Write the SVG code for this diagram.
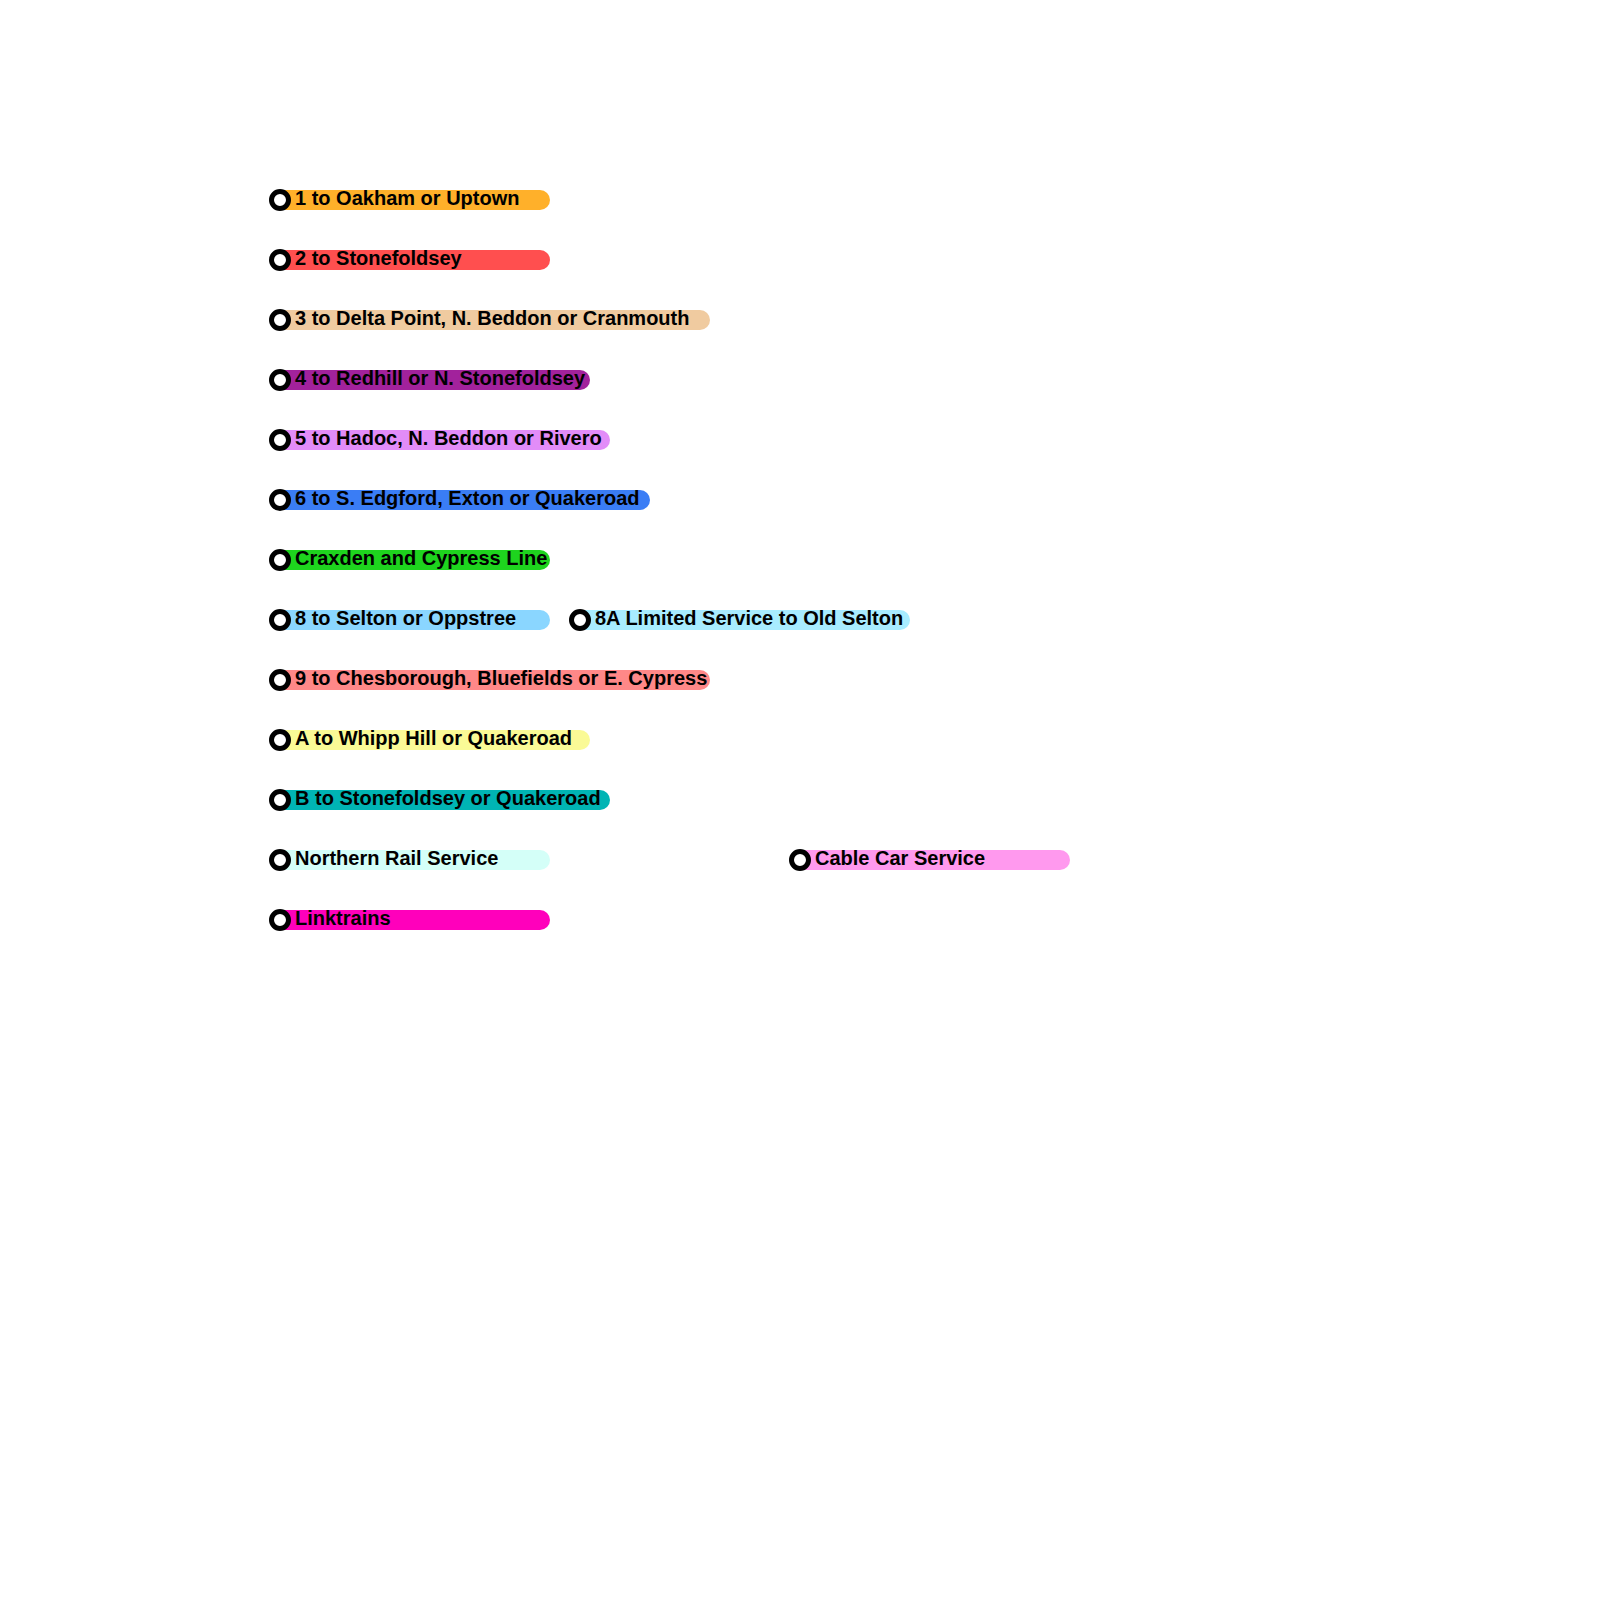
<svg xmlns="http://www.w3.org/2000/svg" width="1600" height="1600" viewBox="0 0 1600 1600">
<style>
.bar{stroke:none}
.st{fill:#fff;stroke:#000;stroke-width:5}
.lb{font-family:"Liberation Sans",Arial,sans-serif;font-weight:bold;font-size:20px;fill:#000}
</style>
<rect width="1600" height="1600" fill="#fff"/>
<g id="connectors"></g>
<g id="l1"><rect class="bar" x="270" y="190" width="280" height="20" rx="10" fill="#FFB02A"/><circle class="st" cx="280" cy="200" r="8.5"/><text class="lb" x="295" y="205">1 to Oakham or Uptown</text></g>
<g id="l2"><rect class="bar" x="270" y="250" width="280" height="20" rx="10" fill="#FF4F4F"/><circle class="st" cx="280" cy="260" r="8.5"/><text class="lb" x="295" y="265">2 to Stonefoldsey</text></g>
<g id="l3"><rect class="bar" x="270" y="310" width="440" height="20" rx="10" fill="#F0CBA0"/><circle class="st" cx="280" cy="320" r="8.5"/><text class="lb" x="295" y="325">3 to Delta Point, N. Beddon or Cranmouth</text></g>
<g id="l4"><rect class="bar" x="270" y="370" width="320" height="20" rx="10" fill="#A2229C"/><circle class="st" cx="280" cy="380" r="8.5"/><text class="lb" x="295" y="385">4 to Redhill or N. Stonefoldsey</text></g>
<g id="l5"><rect class="bar" x="270" y="430" width="340" height="20" rx="10" fill="#E28CF8"/><circle class="st" cx="280" cy="440" r="8.5"/><text class="lb" x="295" y="445">5 to Hadoc, N. Beddon or Rivero</text></g>
<g id="l6"><rect class="bar" x="270" y="490" width="380" height="20" rx="10" fill="#3A7DF5"/><circle class="st" cx="280" cy="500" r="8.5"/><text class="lb" x="295" y="505">6 to S. Edgford, Exton or Quakeroad</text></g>
<g id="l7"><rect class="bar" x="270" y="550" width="280" height="20" rx="10" fill="#1ED41E"/><circle class="st" cx="280" cy="560" r="8.5"/><text class="lb" x="295" y="565">Craxden and Cypress Line</text></g>
<g id="l8"><rect class="bar" x="270" y="610" width="280" height="20" rx="10" fill="#8AD6FF"/><circle class="st" cx="280" cy="620" r="8.5"/><text class="lb" x="295" y="625">8 to Selton or Oppstree</text></g>
<g id="l8a"><rect class="bar" x="570" y="610" width="340" height="20" rx="10" fill="#A8ECFF"/><circle class="st" cx="580" cy="620" r="8.5"/><text class="lb" x="595" y="625">8A Limited Service to Old Selton</text></g>
<g id="l9"><rect class="bar" x="270" y="670" width="440" height="20" rx="10" fill="#FF8888"/><circle class="st" cx="280" cy="680" r="8.5"/><text class="lb" x="295" y="685">9 to Chesborough, Bluefields or E. Cypress</text></g>
<g id="lA"><rect class="bar" x="270" y="730" width="320" height="20" rx="10" fill="#FAFA96"/><circle class="st" cx="280" cy="740" r="8.5"/><text class="lb" x="295" y="745">A to Whipp Hill or Quakeroad</text></g>
<g id="lB"><rect class="bar" x="270" y="790" width="340" height="20" rx="10" fill="#00B4B4"/><circle class="st" cx="280" cy="800" r="8.5"/><text class="lb" x="295" y="805">B to Stonefoldsey or Quakeroad</text></g>
<g id="lN"><rect class="bar" x="270" y="850" width="280" height="20" rx="10" fill="#D4FFF8"/><circle class="st" cx="280" cy="860" r="8.5"/><text class="lb" x="295" y="865">Northern Rail Service</text></g>
<g id="lC"><rect class="bar" x="790" y="850" width="280" height="20" rx="10" fill="#FF99EE"/><circle class="st" cx="800" cy="860" r="8.5"/><text class="lb" x="815" y="865">Cable Car Service</text></g>
<g id="lL"><rect class="bar" x="270" y="910" width="280" height="20" rx="10" fill="#FF00BB"/><circle class="st" cx="280" cy="920" r="8.5"/><text class="lb" x="295" y="925">Linktrains</text></g>
</svg>
